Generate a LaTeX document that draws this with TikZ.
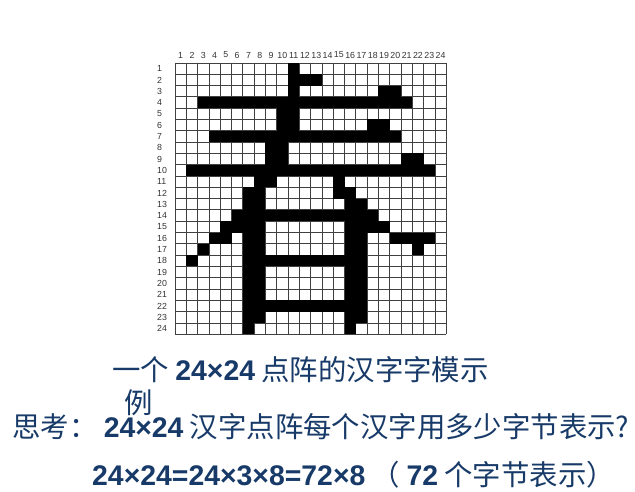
\documentclass[tikz,border=0pt]{standalone}
\usepackage{fontspec}
\setmainfont{Liberation Sans}
\newfontfamily\cjk{Noto Sans CJK SC}
\usepackage{xcolor}
\definecolor{inkblue}{RGB}{23,58,104}
\newcommand\bnum[1]{{\normalfont\bfseries #1}}

\begin{document}
\begin{tikzpicture}[x=1pt,y=-1pt,
  gridline/.style={black!75,line width=0.8pt},
  numlabel/.style={font=\fontsize{8.8}{9}\selectfont,text=black!80,inner sep=0pt},
  txt/.style={font=\fontsize{28.4}{34}\selectfont\cjk,text=inkblue,inner sep=0pt,anchor=base west}]
  \useasboundingbox (0,0) rectangle (635,492);
  % grid lines
  \foreach \i in {0,...,24}{
    \draw[gridline] ({175+\i*11.3},63) -- ({175+\i*11.3},334.2);
    \draw[gridline] (175,{63+\i*11.3}) -- (446.2,{63+\i*11.3});
  }
  % column and row numbers
  \foreach \i in {1,...,24}{
    \node[numlabel] (col\i) at ({175+(\i-0.5)*11.3},55) {\i};
    \node[numlabel,anchor=west] (row\i) at (157,{63+(\i-0.5)*11.3}) {\i};
  }
  % black dots of the glyph, row/columns
  \foreach \r/\cl in {1/{11},2/{11,12,13},3/{11,19,20},4/{3,...,21},5/{10,11},
      6/{10,11,18,19},7/{4,...,20},8/{9,10},9/{9,10,21,22},10/{2,...,23},
      11/{8,9,15},12/{7,8,15,16},13/{7,8,16,17},14/{6,...,18},
      15/{5,6,7,8,16,17,18,19},16/{4,5,7,8,16,17,20,21,22,23},
      17/{3,7,8,16,17,22},18/{2,7,8,9,10,11,12,13,14,15,16,17},
      19/{7,8,16,17},20/{7,8,16,17},21/{7,8,16,17},22/{7,...,17},
      23/{7,8,16,17},24/{7,16}}{
    \foreach \c in \cl{
      \fill ({175+(\c-1)*11.3},{63+(\r-1)*11.3}) rectangle ++(11.3,11.3);
    }
  }
  % texts
  \node[txt] (cap) at (112,380) {一个 \bnum{24×24} 点阵的汉字字模示};
  \node[txt] (capb) at (124,413) {例};
  \node[txt] (think) at (12,437) {思考： \bnum{24×24} 汉字点阵每个汉字用多少字节表示?};
  \node[txt] (answer) at (92,485) {\bnum{24×24=24×3×8=72×8} （ \bnum{72} 个字节表示）};
\end{tikzpicture}
\end{document}
